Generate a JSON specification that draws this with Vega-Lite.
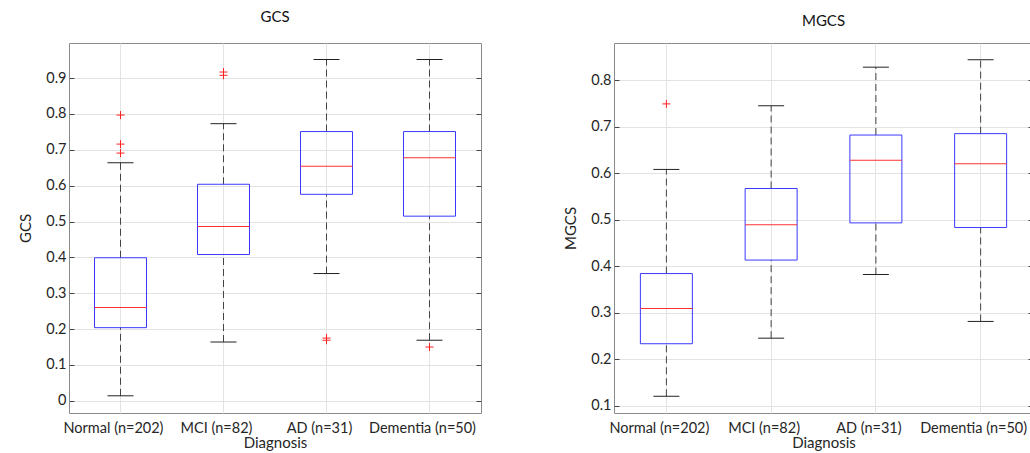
{
  "$schema": "https://vega.github.io/schema/vega-lite/v6.json",
  "padding": {"left": 18, "top": 9, "right": 0, "bottom": 0},
  "config": {
    "font": "Lato",
    "view": {"stroke": "#8a8a8a", "strokeWidth": 1},
    "axis": {"labelFont": "Lato", "labelFontSize": 14.5, "labelColor": "#262626", "titleFont": "Lato", "titleFontSize": 15, "titleFontWeight": "normal", "titleColor": "#262626", "gridColor": "#e3e3e3", "domain": false, "tickColor": "#444444"},
    "title": {"font": "Lato", "fontSize": 15, "fontWeight": "normal", "color": "#111111"}
  },
  "datasets": {
    "gcs": [
      {"group": "Normal (n=202)", "lower": 0.014, "q1": 0.204, "median": 0.260, "q3": 0.399, "upper": 0.664},
      {"group": "MCI (n=82)", "lower": 0.164, "q1": 0.408, "median": 0.486, "q3": 0.604, "upper": 0.773},
      {"group": "AD (n=31)", "lower": 0.355, "q1": 0.576, "median": 0.654, "q3": 0.751, "upper": 0.952},
      {"group": "Dementia (n=50)", "lower": 0.169, "q1": 0.515, "median": 0.678, "q3": 0.751, "upper": 0.952}
    ],
    "gcs_out": [
      {"group": "Normal (n=202)", "value": 0.797},
      {"group": "Normal (n=202)", "value": 0.716},
      {"group": "Normal (n=202)", "value": 0.691},
      {"group": "MCI (n=82)", "value": 0.917},
      {"group": "MCI (n=82)", "value": 0.908},
      {"group": "AD (n=31)", "value": 0.175},
      {"group": "AD (n=31)", "value": 0.169},
      {"group": "Dementia (n=50)", "value": 0.150}
    ],
    "mgcs": [
      {"group": "Normal (n=202)", "lower": 0.120, "q1": 0.233, "median": 0.309, "q3": 0.384, "upper": 0.608},
      {"group": "MCI (n=82)", "lower": 0.245, "q1": 0.413, "median": 0.489, "q3": 0.567, "upper": 0.745},
      {"group": "AD (n=31)", "lower": 0.382, "q1": 0.493, "median": 0.628, "q3": 0.682, "upper": 0.828},
      {"group": "Dementia (n=50)", "lower": 0.281, "q1": 0.483, "median": 0.620, "q3": 0.685, "upper": 0.844}
    ],
    "mgcs_out": [
      {"group": "Normal (n=202)", "value": 0.749}
    ]
  },
  "spacing": 81,
  "hconcat": [
    {
      "width": 412,
      "height": 370,
      "title": {"text": "GCS", "offset": 17, "dy": -1},
      "resolve": {"axis": {"y": "independent"}},
      "layer": [
        {
          "data": {"name": "gcs"},
          "mark": {"type": "rule", "strokeDash": [7, 4], "color": "#444444"},
          "encoding": {
            "x": {"field": "group", "type": "nominal", "sort": ["Normal (n=202)", "MCI (n=82)", "AD (n=31)", "Dementia (n=50)"], "scale": {"paddingInner": 0, "paddingOuter": 0}, "axis": {"title": "Diagnosis", "labelAngle": 0, "labelOffset": -7, "grid": true, "bandPosition": 0.5, "ticks": false, "labelPadding": 8, "titlePadding": 1}},
            "y": {"field": "lower", "type": "quantitative", "scale": {"domain": [-0.034, 0.998], "nice": false, "zero": false}, "axis": {"title": "GCS", "values": [0, 0.1, 0.2, 0.3, 0.4, 0.5, 0.6, 0.7, 0.8, 0.9], "format": ".1~f", "grid": true, "tickSize": -5, "labelPadding": 8, "titlePadding": 12}},
            "y2": {"field": "q1"}
          }
        },
        {
          "data": {"name": "gcs"},
          "mark": {"type": "rule", "strokeDash": [7, 4], "color": "#444444"},
          "encoding": {
            "x": {"field": "group", "type": "nominal", "sort": ["Normal (n=202)", "MCI (n=82)", "AD (n=31)", "Dementia (n=50)"]},
            "y": {"field": "q3", "type": "quantitative", "axis": {"orient": "right", "title": null, "labels": false, "grid": false, "tickSize": -5, "values": [0, 0.1, 0.2, 0.3, 0.4, 0.5, 0.6, 0.7, 0.8, 0.9]}},
            "y2": {"field": "upper"}
          }
        },
        {
          "data": {"name": "gcs"},
          "mark": {"type": "tick", "size": 26, "thickness": 1, "color": "#222222", "opacity": 1},
          "encoding": {
            "x": {"field": "group", "type": "nominal", "sort": ["Normal (n=202)", "MCI (n=82)", "AD (n=31)", "Dementia (n=50)"]},
            "y": {"field": "lower", "type": "quantitative", "axis": null}
          }
        },
        {
          "data": {"name": "gcs"},
          "mark": {"type": "tick", "size": 26, "thickness": 1, "color": "#222222", "opacity": 1},
          "encoding": {
            "x": {"field": "group", "type": "nominal", "sort": ["Normal (n=202)", "MCI (n=82)", "AD (n=31)", "Dementia (n=50)"]},
            "y": {"field": "upper", "type": "quantitative", "axis": null}
          }
        },
        {
          "data": {"name": "gcs"},
          "mark": {"type": "bar", "size": 52, "fill": "transparent", "stroke": "#3a3aff", "strokeWidth": 1},
          "encoding": {
            "x": {"field": "group", "type": "nominal", "sort": ["Normal (n=202)", "MCI (n=82)", "AD (n=31)", "Dementia (n=50)"]},
            "y": {"field": "q1", "type": "quantitative", "axis": null},
            "y2": {"field": "q3"}
          }
        },
        {
          "data": {"name": "gcs"},
          "mark": {"type": "tick", "size": 52, "thickness": 1, "color": "#ff3030", "opacity": 1},
          "encoding": {
            "x": {"field": "group", "type": "nominal", "sort": ["Normal (n=202)", "MCI (n=82)", "AD (n=31)", "Dementia (n=50)"]},
            "y": {"field": "median", "type": "quantitative", "axis": null}
          }
        },
        {
          "data": {"name": "gcs_out"},
          "mark": {"type": "point", "shape": "M-1,0L1,0M0,-1L0,1", "filled": false, "size": 64, "stroke": "#ff2020", "strokeWidth": 1, "opacity": 1},
          "encoding": {
            "x": {"field": "group", "type": "nominal", "sort": ["Normal (n=202)", "MCI (n=82)", "AD (n=31)", "Dementia (n=50)"]},
            "y": {"field": "value", "type": "quantitative", "axis": null}
          }
        }
      ]
    },
    {
      "width": 419,
      "height": 370,
      "title": {"text": "MGCS", "offset": 17, "dy": 3},
      "resolve": {"axis": {"y": "independent"}},
      "layer": [
        {
          "data": {"name": "mgcs"},
          "mark": {"type": "rule", "strokeDash": [7, 4], "color": "#444444"},
          "encoding": {
            "x": {"field": "group", "type": "nominal", "sort": ["Normal (n=202)", "MCI (n=82)", "AD (n=31)", "Dementia (n=50)"], "scale": {"paddingInner": 0, "paddingOuter": 0}, "axis": {"title": "Diagnosis", "labelAngle": 0, "labelOffset": -7, "grid": true, "bandPosition": 0.5, "ticks": false, "labelPadding": 8, "titlePadding": 1}},
            "y": {"field": "lower", "type": "quantitative", "scale": {"domain": [0.084, 0.88], "nice": false, "zero": false}, "axis": {"title": "MGCS", "values": [0.1, 0.2, 0.3, 0.4, 0.5, 0.6, 0.7, 0.8], "format": ".1~f", "grid": true, "tickSize": -5, "labelPadding": 8, "titlePadding": 12}},
            "y2": {"field": "q1"}
          }
        },
        {
          "data": {"name": "mgcs"},
          "mark": {"type": "rule", "strokeDash": [7, 4], "color": "#444444"},
          "encoding": {
            "x": {"field": "group", "type": "nominal", "sort": ["Normal (n=202)", "MCI (n=82)", "AD (n=31)", "Dementia (n=50)"]},
            "y": {"field": "q3", "type": "quantitative", "axis": {"orient": "right", "title": null, "labels": false, "grid": false, "tickSize": -5, "values": [0.1, 0.2, 0.3, 0.4, 0.5, 0.6, 0.7, 0.8]}},
            "y2": {"field": "upper"}
          }
        },
        {
          "data": {"name": "mgcs"},
          "mark": {"type": "tick", "size": 26, "thickness": 1, "color": "#222222", "opacity": 1},
          "encoding": {
            "x": {"field": "group", "type": "nominal", "sort": ["Normal (n=202)", "MCI (n=82)", "AD (n=31)", "Dementia (n=50)"]},
            "y": {"field": "lower", "type": "quantitative", "axis": null}
          }
        },
        {
          "data": {"name": "mgcs"},
          "mark": {"type": "tick", "size": 26, "thickness": 1, "color": "#222222", "opacity": 1},
          "encoding": {
            "x": {"field": "group", "type": "nominal", "sort": ["Normal (n=202)", "MCI (n=82)", "AD (n=31)", "Dementia (n=50)"]},
            "y": {"field": "upper", "type": "quantitative", "axis": null}
          }
        },
        {
          "data": {"name": "mgcs"},
          "mark": {"type": "bar", "size": 52, "fill": "transparent", "stroke": "#3a3aff", "strokeWidth": 1},
          "encoding": {
            "x": {"field": "group", "type": "nominal", "sort": ["Normal (n=202)", "MCI (n=82)", "AD (n=31)", "Dementia (n=50)"]},
            "y": {"field": "q1", "type": "quantitative", "axis": null},
            "y2": {"field": "q3"}
          }
        },
        {
          "data": {"name": "mgcs"},
          "mark": {"type": "tick", "size": 52, "thickness": 1, "color": "#ff3030", "opacity": 1},
          "encoding": {
            "x": {"field": "group", "type": "nominal", "sort": ["Normal (n=202)", "MCI (n=82)", "AD (n=31)", "Dementia (n=50)"]},
            "y": {"field": "median", "type": "quantitative", "axis": null}
          }
        },
        {
          "data": {"name": "mgcs_out"},
          "mark": {"type": "point", "shape": "M-1,0L1,0M0,-1L0,1", "filled": false, "size": 64, "stroke": "#ff2020", "strokeWidth": 1, "opacity": 1},
          "encoding": {
            "x": {"field": "group", "type": "nominal", "sort": ["Normal (n=202)", "MCI (n=82)", "AD (n=31)", "Dementia (n=50)"]},
            "y": {"field": "value", "type": "quantitative", "axis": null}
          }
        }
      ]
    }
  ]
}
